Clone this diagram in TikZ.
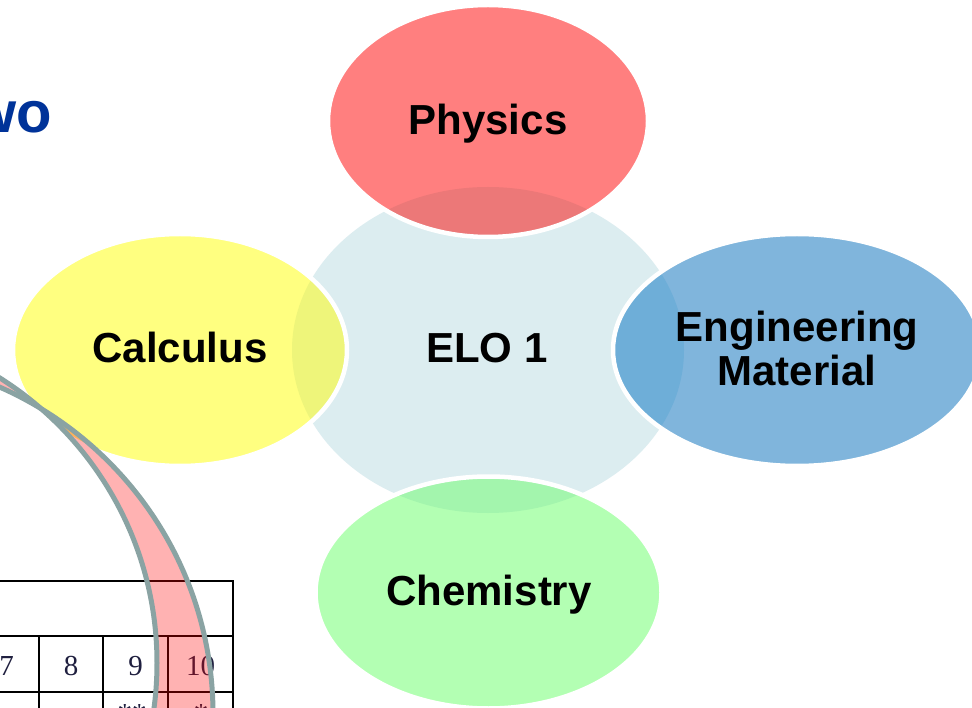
\documentclass[tikz,border=0pt]{standalone}
\usepackage{fontspec}
\setmainfont{Liberation Sans}
\newfontfamily\tabfont{Liberation Serif}
\definecolor{titleblue}{HTML}{003399}
\definecolor{centerc}{HTML}{DCEDF0}
\definecolor{physc}{HTML}{FF7F7F}
\definecolor{physo}{HTML}{EC7878}
\definecolor{calcc}{HTML}{FFFF80}
\definecolor{calco}{HTML}{EEF57A}
\definecolor{engc}{HTML}{80B5DC}
\definecolor{engo}{HTML}{6EAED8}
\definecolor{chemc}{HTML}{B3FFB3}
\definecolor{chemo}{HTML}{A3F5AD}
\definecolor{bandgray}{HTML}{8AA3A3}
\definecolor{numc}{HTML}{1F1F3F}
\begin{document}
\begin{tikzpicture}[x=1pt,y=-1pt,
  lbl/.style={font=\fontsize{42}{44}\selectfont\bfseries, text=black, inner sep=0pt, anchor=base},
  rim/.style={draw=white, line width=4.5pt},
  digit/.style={font=\tabfont\fontsize{29}{30}\selectfont, text=numc, inner sep=0pt, anchor=base},
  tabline/.style={draw=black, line width=1.1pt},
  band/.style={draw=bandgray, line width=5pt}]
\useasboundingbox (0,0) rectangle (972,708);
\fill[white] (0,0) rectangle (972,708);

% title fragment
\node[font=\fontsize{58}{60}\selectfont\bfseries, text=titleblue, inner sep=0pt, anchor=base east] (title) at (52,133) {wo};

% central circle
\fill[centerc] (488,350) ellipse [x radius=196pt, y radius=163pt];

% satellites
\fill[physc] (488,121) ellipse [x radius=160pt, y radius=116pt];
\fill[calcc] (180,350) ellipse [x radius=167pt, y radius=116pt];
\fill[engc] (797,350) ellipse [x radius=184pt, y radius=116pt];
\fill[chemc] (488.5,592.5) ellipse [x radius=173pt, y radius=116pt];
\begin{scope}
  \clip (488,350) ellipse [x radius=196pt, y radius=163pt];
  \fill[physo] (488,121) ellipse [x radius=160pt, y radius=116pt];
  \fill[calco] (180,350) ellipse [x radius=167pt, y radius=116pt];
  \fill[engo] (797,350) ellipse [x radius=184pt, y radius=116pt];
  \fill[chemo] (488.5,592.5) ellipse [x radius=173pt, y radius=116pt];
\end{scope}
\draw[rim] (488,121) ellipse [x radius=160pt, y radius=116pt];
\draw[rim] (180,350) ellipse [x radius=167pt, y radius=116pt];
\draw[rim] (797,350) ellipse [x radius=184pt, y radius=116pt];
\draw[rim] (488.5,592.5) ellipse [x radius=173pt, y radius=116pt];

\node[lbl] (elo) at (487,363) {ELO 1};
\node[lbl] (phys) at (488,135) {Physics};
\node[lbl] (calc) at (180,363) {Calculus};
\node[lbl] (eng) at (797,342) {Engineering};
\node[lbl] (mat) at (797,386) {Material};
\node[lbl] (chem) at (489,605) {Chemistry};

% table fragment
\draw[tabline] (0,581) -- (233,581) -- (233,708);
\draw[tabline] (0,636) -- (233,636);
\draw[tabline] (0,692) -- (233,692);
\draw[tabline] (39,636) -- (39,708);
\draw[tabline] (103,636) -- (103,708);
\draw[tabline] (168,636) -- (168,708);
\node[digit] (d7) at (6.5,675) {7};
\node[digit] (d8) at (71,675) {8};
\node[digit] (d9) at (135.5,675) {9};
\node[digit] (d10) at (200.5,675) {10};
\node[digit] (s9) at (132,723) {**};
\node[digit] (s10) at (201,723) {*};

% curved band
\fill[red, fill opacity=0.3, even odd rule] (-180,663) circle [radius=337pt] (-144,714) circle [radius=357pt];
\draw[band] (-180,663) circle [radius=337pt];
\draw[band] (-144,714) circle [radius=357pt];
\end{tikzpicture}
\end{document}
